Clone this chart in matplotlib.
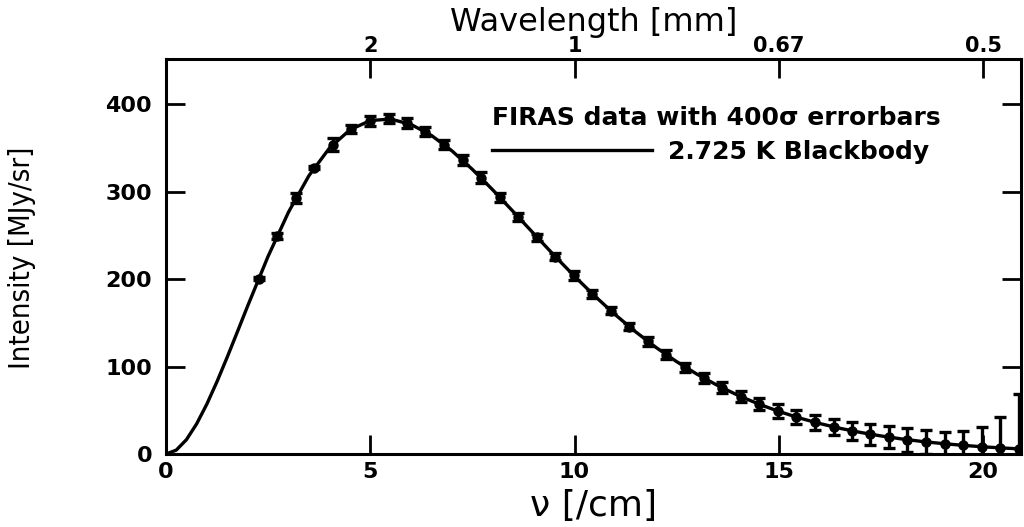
import matplotlib
matplotlib.use('Agg')
import matplotlib.pyplot as plt

# Datos FIRAS (frecuencia en /cm, intensidad en MJy/sr, barras = 400 sigma)
NU_FIRAS = [2.27, 2.72, 3.18, 3.63, 4.08, 4.54, 4.99, 5.45, 5.90, 6.35,
            6.81, 7.26, 7.71, 8.17, 8.62, 9.08, 9.53, 9.98, 10.44, 10.89,
            11.34, 11.80, 12.25, 12.71, 13.16, 13.61, 14.07, 14.52, 14.97, 15.43,
            15.88, 16.34, 16.79, 17.24, 17.70, 18.15, 18.61, 19.06, 19.51, 19.97,
            20.42, 20.87]
INTENSIDAD = [200.7, 249.5, 293.0, 327.8, 354.1, 372.1, 381.5, 383.5, 378.9, 368.8,
              354.1, 336.3, 316.1, 293.9, 271.4, 248.2, 225.9, 204.3, 183.3, 163.8,
              145.8, 128.8, 113.6, 99.5, 87.0, 75.9, 65.8, 57.0, 49.2, 42.3,
              36.4, 31.1, 26.6, 22.6, 19.3, 16.4, 13.8, 11.7, 9.9, 8.4,
              7.1, 5.8]
ERROR_400 = [2.0, 3.6, 6.0, 1.6, 7.6, 4.8, 5.6, 5.2, 5.6, 5.2,
             4.8, 5.6, 6.4, 5.2, 4.4, 4.0, 4.4, 4.8, 4.4, 4.0,
             4.4, 4.8, 5.2, 5.2, 6.0, 6.4, 6.8, 7.2, 7.6, 8.0,
             8.4, 8.8, 10.4, 12.0, 12.4, 13.6, 13.6, 14.0, 16.0, 22.0,
             35.0, 63.0]

# Curva de cuerpo negro 2.725 K
NU_CURVA = [0.0, 0.25, 0.5, 0.75, 1.0, 1.25, 1.5, 1.75, 2.0, 2.5,
            3.0, 3.5, 4.0, 4.5, 5.0, 5.5, 6.0, 6.5, 7.0, 7.5,
            8.0, 8.5, 9.0, 9.5, 10.0, 10.5, 11.0, 11.5, 12.0, 12.5,
            13.0, 13.5, 14.0, 14.5, 15.0, 15.5, 16.0, 16.5, 17.0, 17.5,
            18.0, 18.5, 19.0, 19.5, 20.0, 20.5, 21.0]
I_CURVA = [0.0, 4.4, 16.4, 34.5, 57.1, 83.0, 111.0, 140.1, 169.5, 226.3,
           276.9, 318.6, 350.0, 370.9, 381.6, 383.3, 377.1, 364.5, 346.9, 325.7,
           302.2, 277.4, 252.3, 227.4, 203.4, 180.6, 159.3, 139.7, 121.8, 105.7,
           91.3, 78.5, 67.2, 57.3, 48.8, 41.3, 34.9, 29.4, 24.7, 20.7,
           17.3, 14.4, 12.0, 9.95, 8.24, 6.82, 5.63]

X_TICKS = [0, 5, 10, 15, 20]
Y_TICKS = [0, 100, 200, 300, 400]
TOP_TICKS = [5, 10, 15, 20]
TOP_LABELS = ['2', '1', '0.67', '0.5']


def graficar():
    fig = plt.figure(figsize=(10.24, 5.27), dpi=100)
    ax = fig.add_axes([0.1621, 0.1385, 0.835, 0.7495])

    ax.plot(NU_CURVA, I_CURVA, color='black', lw=2.4, zorder=2,
            label='2.725 K Blackbody')
    ax.errorbar(NU_FIRAS, INTENSIDAD, yerr=ERROR_400, fmt='o', color='black',
                ms=6.5, elinewidth=2.4, capsize=4.5, capthick=2.4, zorder=3)

    ax.set_xlim(0, 20.93)
    ax.set_ylim(0, 452)
    ax.set_xticks(X_TICKS)
    ax.set_yticks(Y_TICKS)

    for spine in ax.spines.values():
        spine.set_linewidth(2.2)
    ax.tick_params(direction='in', length=14, width=2.0, top=False, right=True,
                   labelsize=16)
    ax.tick_params(axis='x', pad=6)
    ax.tick_params(axis='y', pad=10)
    for lab in ax.get_xticklabels() + ax.get_yticklabels():
        lab.set_fontweight('bold')

    # eje superior en longitud de onda
    ax_top = ax.twiny()
    ax_top.set_xlim(ax.get_xlim())
    ax_top.set_xticks(TOP_TICKS)
    ax_top.set_xticklabels(TOP_LABELS, fontsize=15, fontweight='bold')
    ax_top.tick_params(direction='in', length=14, width=2.0, pad=2)
    ax_top.set_xlabel('Wavelength [mm]', fontsize=23, labelpad=4)

    ax.set_xlabel('ν [/cm]', fontsize=26, labelpad=5)
    ax.set_ylabel('Intensity [MJy/sr]', fontsize=21, fontstretch='condensed')
    ax.yaxis.set_label_coords(-0.152, 0.496)

    ax.text(0.381, 0.851, 'FIRAS data with 400σ errorbars', transform=ax.transAxes,
            fontsize=18, fontweight='bold', va='center', ha='left')
    ax.legend(loc='center left', bbox_to_anchor=(0.381, 0.765), frameon=False,
              borderpad=0, borderaxespad=0, handlelength=6.4, handletextpad=0.64,
              prop={'size': 18, 'weight': 'bold'})

    fig.savefig('out.png', dpi=100)
    plt.close(fig)


if __name__ == '__main__':
    graficar()
